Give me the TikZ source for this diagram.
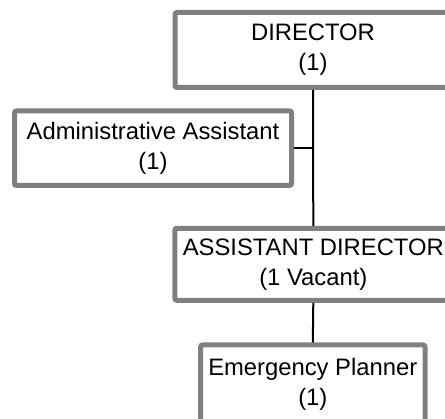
\documentclass[tikz,border=0pt]{standalone}
\usepackage{fontspec}
\setmainfont{Liberation Sans}
\begin{document}
\begin{tikzpicture}[x=1pt,y=-1pt,
  box/.style={draw=boxgray, line width=5pt, rounded corners=2pt, fill=white,
    align=center, inner sep=0pt, font=\fontsize{23.8pt}{30pt}\selectfont},
  link/.style={draw=black, line width=2pt}]
\definecolor{boxgray}{HTML}{808080}
\useasboundingbox (0,0) rectangle (445,419);
\clip (0,0) rectangle (445,419);
\node[box, minimum width=276pt, minimum height=75pt] (dir) at (313,50) {DIRECTOR\\(1)};
\node[box, minimum width=277pt, minimum height=74.5pt] (adm) at (153,148.2) {Administrative Assistant\\(1)};
\node[box, minimum width=277pt, minimum height=72pt] (ad) at (313.3,264.3) {ASSISTANT DIRECTOR\\(1 Vacant)};
\node[box, minimum width=224.5pt, minimum height=78pt] (ep) at (312.8,384) {Emergency Planner\\(1)};
\draw[link] (dir.south) -- (ad.north);
\draw[link] (adm.east) -- (adm.east -| dir.south);
\draw[link] (ad.south) -- (ep.north);
\end{tikzpicture}
\end{document}
